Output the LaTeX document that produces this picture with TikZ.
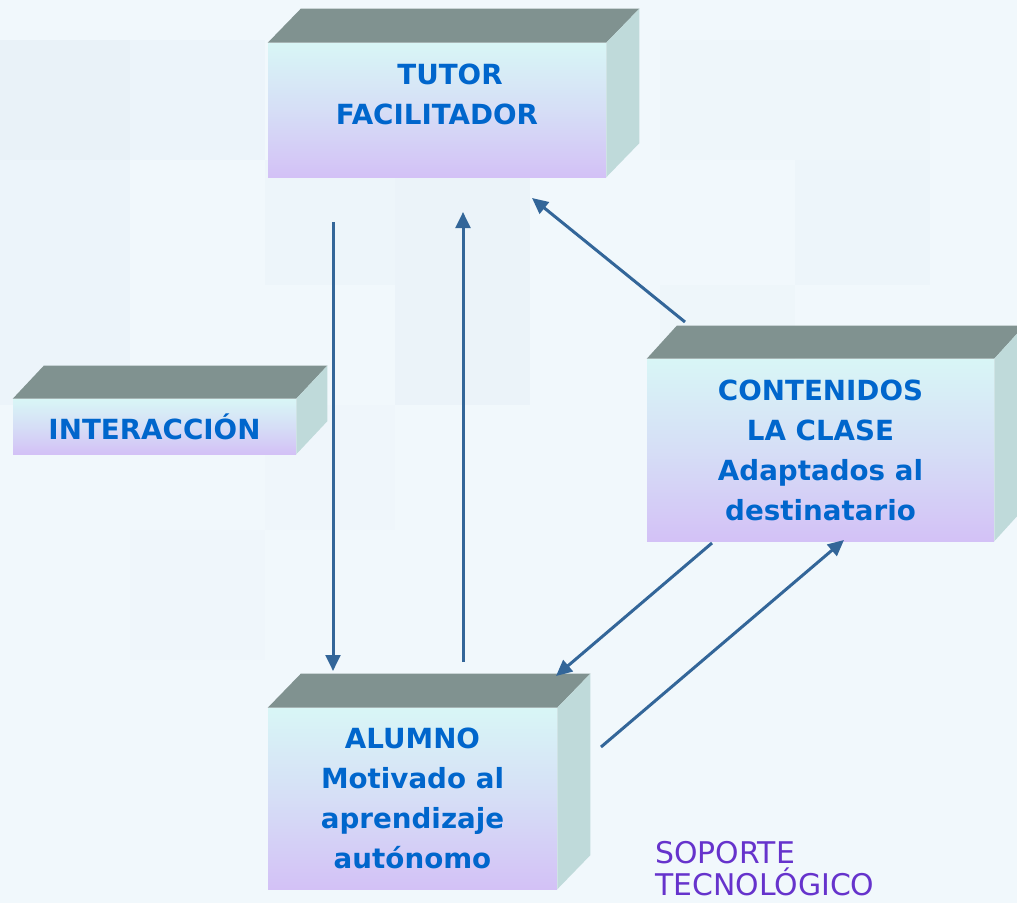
\documentclass[tikz,border=0pt]{standalone}
\usepackage{fontspec}
\setmainfont{DejaVu Sans}
\usetikzlibrary{arrows.meta}
\definecolor{bgbase}{HTML}{F1F8FC}
\definecolor{bgdark}{HTML}{E9F2F8}
\definecolor{topface}{HTML}{809290}
\definecolor{sideface}{HTML}{BFDADA}
\definecolor{facetop}{HTML}{D8F6F6}
\definecolor{facebot}{HTML}{D3C1F6}
\definecolor{txtblue}{HTML}{0066CC}
\definecolor{txtpurple}{HTML}{6633CC}
\definecolor{arrowblue}{HTML}{336699}
\newcommand\boxfaces[3]{%
  \fill[topface] (#1.north west) -- ++(#2,-#3) -- ([shift={(#2,-#3)}]#1.north east) -- (#1.north east) -- cycle;
  \fill[sideface] (#1.north east) -- ++(#2,-#3) -- ([shift={(#2,-#3)}]#1.south east) -- (#1.south east) -- cycle;
}
\begin{document}
\begin{tikzpicture}[x=0.75pt,y=-0.75pt,
  front/.style={inner sep=0pt, top color=facetop, bottom color=facebot, middle color=facebot!45!facetop,
    text=txtblue, font=\fontsize{20.8}{30}\selectfont\bfseries, align=center},
  conn/.style={draw=arrowblue, line width=2.25pt, -{Triangle[length=12pt,width=11pt]}},
  plain/.style={text=txtpurple, font=\fontsize{22.4}{24}\selectfont, align=left, inner sep=0pt}]
\fill[bgbase] (0,0) rectangle (1017,903);
\useasboundingbox (0,0) rectangle (1017,903);
% faint background squares
\fill[bgdark] (0,40) rectangle (130,160);
\fill[bgdark!60!bgbase] (130,40) rectangle (265,160);
\fill[bgdark!60!bgbase] (0,160) rectangle (130,405);
\fill[bgdark!80!bgbase] (395,160) rectangle (530,405);
\fill[bgdark!50!bgbase] (265,160) rectangle (395,285);
\fill[bgdark!40!bgbase] (660,40) rectangle (930,160);
\fill[bgdark!50!bgbase] (795,160) rectangle (930,285);
\fill[bgdark!40!bgbase] (660,285) rectangle (795,405);
\fill[bgdark!30!bgbase] (265,405) rectangle (395,530);
\fill[bgdark!30!bgbase] (130,530) rectangle (265,660);

% boxes
\node[front, minimum width=253.5pt, minimum height=100.5pt] (tutor) at (437,110)
  {\hspace*{19.5pt}TUTOR\\FACILITADOR\\[-6pt]\mbox{}};
\boxfaces{tutor}{33}{34}
\node[front, minimum width=212.25pt, minimum height=41.25pt] (inter) at (154.5,426.5) {INTERACCIÓN};
\boxfaces{inter}{31}{33}
\node[front, minimum width=260.25pt, minimum height=136.5pt] (cont) at (820.5,450)
  {CONTENIDOS\\LA CLASE\\Adaptados al\\destinatario};
\boxfaces{cont}{30}{33}
\node[front, minimum width=216.75pt, minimum height=135.75pt] (alumno) at (412.5,798.5)
  {ALUMNO\\Motivado al\\aprendizaje\\autónomo};
\boxfaces{alumno}{33}{34}

\node[plain, anchor=north west] (soporte) at (655,841) {SOPORTE\\TECNOLÓGICO};

% connector end points
\coordinate (a1s) at (333,222);
\coordinate (a1e) at (333,671);
\coordinate (a2s) at (463,662);
\coordinate (a2e) at (463,212);
\coordinate (a3s) at (685,322);
\coordinate (a3e) at (532,198);
\coordinate (a4s) at (712,543);
\coordinate (a4e) at (556,676);
\coordinate (a5s) at (601,747);
\coordinate (a5e) at (844,540);

\draw[conn] (a1s) -- (a1e);
\draw[conn] (a2s) -- (a2e);
\draw[conn] (a3s) -- (a3e);
\draw[conn] (a4s) -- (a4e);
\draw[conn] (a5s) -- (a5e);
\end{tikzpicture}
\end{document}
